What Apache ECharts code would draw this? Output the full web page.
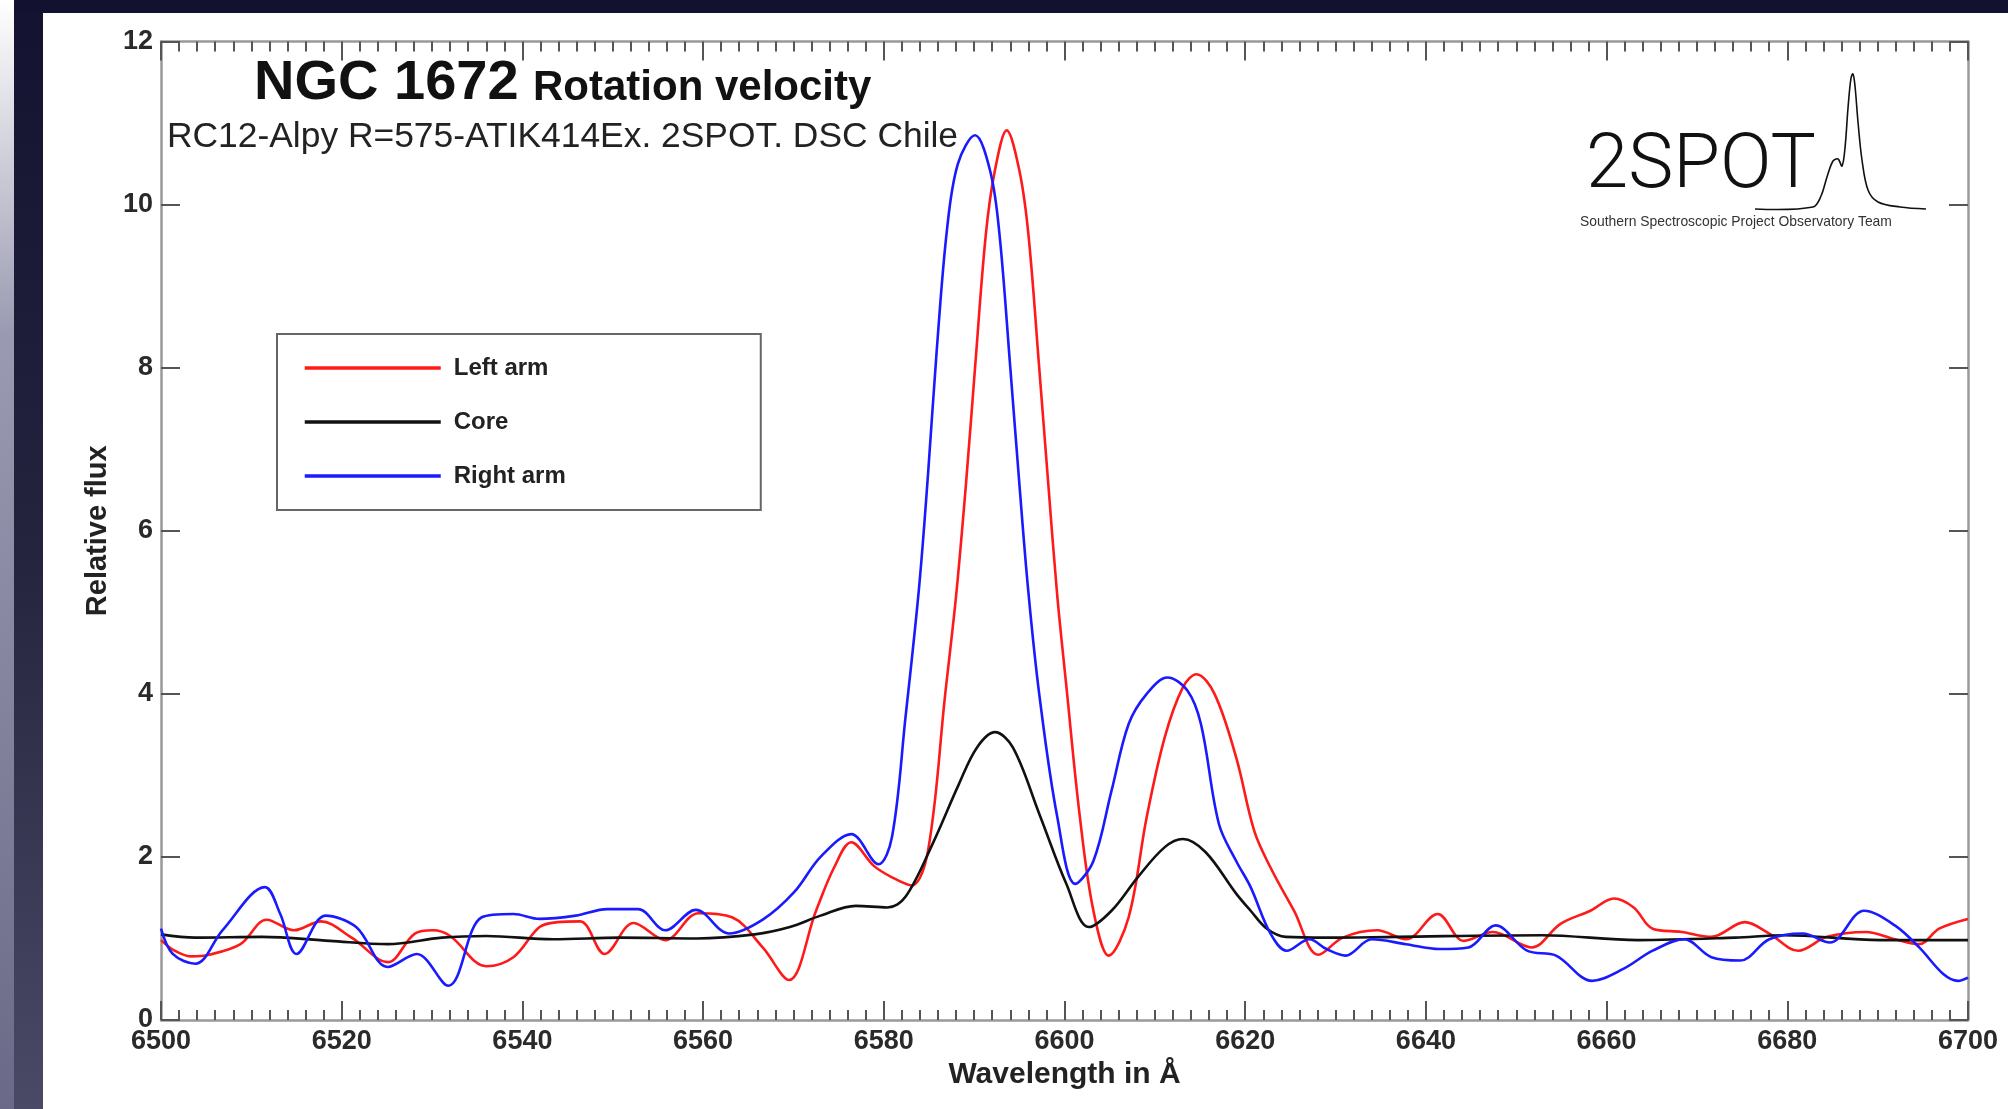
<!DOCTYPE html>
<html>
<head>
<meta charset="utf-8">
<script src="https://cdn.jsdelivr.net/npm/echarts@6/dist/echarts.min.js"></script>
<style>html,body{margin:0;padding:0;background:#fff;}#c{width:2008px;height:1109px;}</style>
</head>
<body>
<div id="c"></div>
<script>
// ---- data ----
const xMin = 6500, xMax = 6700, xStep = 20;
const yMin = 0, yMax = 12, yStep = 2;
const seriesNames = ['Left arm', 'Core', 'Right arm'];

const leftArmWl = [6500.0,6501.5,6503.3,6505.3,6508.8,6511.7,6514.7,6517.7,6521.1,6525.1,6528.1,6530.1,6532.0,6536.0,6539.0,6541.9,6543.9,6546.4,6549.1,6552.3,6555.8,6559.5,6563.2,6566.6,6569.5,6572.5,6574.5,6576.4,6578.9,6580.9,6583.1,6584.9,6586.8,6588.0,6589.1,6590.1,6591.3,6592.3,6593.6,6595.0,6596.0,6597.2,6598.2,6599.2,6600.2,6601.7,6603.2,6604.9,6607.1,6609.1,6611.1,6613.1,6614.6,6616.6,6619.0,6621.0,6622.8,6625.4,6628.1,6630.8,6634.6,6637.8,6641.3,6644.2,6647.4,6651.7,6654.9,6658.2,6660.8,6663.0,6665.1,6668.3,6671.6,6675.3,6678.0,6681.2,6684.4,6688.7,6691.9,6694.6,6696.8,6700.0];
const leftArmFlux = [0.98,0.85,0.78,0.80,0.93,1.23,1.10,1.21,1.01,0.71,1.06,1.10,1.03,0.66,0.77,1.14,1.20,1.21,0.81,1.19,0.98,1.31,1.26,0.89,0.49,1.34,1.87,2.18,1.89,1.75,1.65,2.08,4.0,5.2,6.58,8.0,9.64,10.42,10.91,10.42,9.64,8.0,6.58,5.2,4.1,2.49,1.34,0.79,1.26,2.49,3.47,4.08,4.24,4.0,3.22,2.32,1.87,1.34,0.80,1.01,1.10,0.99,1.30,0.97,1.08,0.89,1.18,1.34,1.49,1.38,1.12,1.08,1.02,1.20,1.06,0.85,1.02,1.08,0.99,0.93,1.12,1.24];

const coreWl = [6500.0,6503.8,6511.2,6518.7,6525.1,6531.1,6536.0,6543.4,6550.8,6559.3,6565.7,6569.6,6573.0,6576.9,6580.4,6582.4,6585.4,6588.3,6590.3,6592.3,6594.3,6597.2,6600.2,6602.7,6605.2,6608.1,6611.1,6613.1,6615.6,6619.0,6620.6,6622.4,6624.5,6629.0,6636.7,6652.8,6663.5,6674.2,6679.6,6690.3,6700.0];
const coreFlux = [1.05,1.01,1.02,0.97,0.93,1.01,1.03,0.99,1.01,1.00,1.05,1.14,1.28,1.40,1.38,1.51,2.16,2.89,3.34,3.53,3.34,2.53,1.67,1.14,1.34,1.75,2.12,2.22,2.06,1.55,1.34,1.12,1.02,1.01,1.02,1.04,0.98,1.01,1.04,0.98,0.98];

const rightArmWl = [6500.0,6501.3,6503.8,6506.8,6511.5,6513.2,6515.0,6518.2,6521.6,6525.1,6528.3,6531.8,6535.5,6539.0,6541.9,6545.9,6549.4,6552.8,6555.8,6559.2,6562.9,6566.6,6570.1,6573.0,6576.4,6579.4,6580.9,6582.4,6583.9,6584.9,6585.85,6587.0,6588.2,6590.1,6591.8,6592.8,6594.0,6595.0,6596.0,6597.2,6599.2,6601.2,6603.2,6605.2,6607.1,6609.1,6611.4,6613.6,6615.1,6617.1,6619.0,6620.6,6622.8,6624.6,6627.1,6629.0,6631.1,6634.0,6637.8,6641.5,6644.7,6647.7,6651.2,6654.4,6658.4,6661.9,6665.1,6668.6,6671.6,6674.8,6678.0,6681.7,6684.7,6688.5,6691.9,6694.6,6697.3,6698.9,6700.0];
const rightArmFlux = [1.12,0.81,0.69,1.10,1.63,1.30,0.81,1.28,1.14,0.65,0.81,0.42,1.26,1.30,1.24,1.28,1.36,1.36,1.10,1.35,1.06,1.23,1.57,2.0,2.28,1.91,2.24,3.71,5.3,6.7,8.2,9.7,10.5,10.85,10.4,9.64,8.0,6.58,5.25,4.0,2.49,1.67,1.95,2.81,3.63,4.0,4.20,4.04,3.63,2.40,1.95,1.63,1.06,0.85,0.99,0.87,0.79,0.99,0.93,0.87,0.89,1.16,0.85,0.79,0.48,0.63,0.85,0.99,0.77,0.73,0.99,1.06,0.95,1.34,1.16,0.89,0.56,0.48,0.52];

const seriesColors = ['#ff1a1a', '#111111', '#1a1aff'];

// ---- chart ----
const pairs = (xs, ys) => xs.map((x, i) => [x, ys[i]]);
const seriesData = [pairs(leftArmWl, leftArmFlux), pairs(coreWl, coreFlux), pairs(rightArmWl, rightArmFlux)];

const chart = echarts.init(document.getElementById('c'), null, {renderer: 'canvas'});
const FONT = '"Liberation Sans", Arial, Helvetica, sans-serif';
const tickColor = '#555';
const axisLineColor = '#999';

function xAxisCfg(pos, labels) {
  return {
    type: 'value', position: pos, min: xMin, max: xMax, interval: xStep,
    axisLine: {show: true, onZero: false, lineStyle: {color: axisLineColor, width: 2.5}},
    axisTick: {show: true, inside: true, length: 19, lineStyle: {color: tickColor, width: 2}},
    minorTick: {show: true, splitNumber: 10, length: 10, lineStyle: {color: tickColor, width: 2}},
    splitLine: {show: false}, minorSplitLine: {show: false},
    axisLabel: {show: labels, fontFamily: FONT, fontWeight: 'bold', fontSize: 27, color: '#2a2a2a', margin: 8,
                formatter: v => String(v)},
    name: labels ? 'Wavelength in Å' : '', nameLocation: 'middle', nameGap: 38,
    nameTextStyle: {fontFamily: FONT, fontWeight: 'bold', fontSize: 30, color: '#222'}
  };
}
function yAxisCfg(pos, labels) {
  return {
    type: 'value', position: pos, min: yMin, max: yMax, interval: yStep,
    axisLine: {show: true, onZero: false, lineStyle: {color: axisLineColor, width: 2.5}},
    axisTick: {show: true, inside: true, length: 19, lineStyle: {color: tickColor, width: 2}},
    splitLine: {show: false},
    axisLabel: {show: labels, fontFamily: FONT, fontWeight: 'bold', fontSize: 27, color: '#2a2a2a', margin: 8,
                formatter: v => String(v)},
    name: labels ? 'Relative flux' : '', nameLocation: 'middle', nameGap: 48, nameRotate: 90,
    nameTextStyle: {fontFamily: FONT, fontWeight: 'bold', fontSize: 29, color: '#222'}
  };
}

const leftGrad = new echarts.graphic.LinearGradient(0, 0, 0, 1, [
  {offset: 0, color: '#131331'}, {offset: 0.5, color: '#24243f'}, {offset: 1, color: '#4a4a66'}]);
const edgeGrad = new echarts.graphic.LinearGradient(0, 0, 0, 1, [
  {offset: 0, color: '#ffffff'}, {offset: 0.3, color: '#9a9ab2'}, {offset: 1, color: '#6a6a88'}]);

chart.setOption({
  animation: false,
  backgroundColor: '#ffffff',
  grid: {left: 161, right: 40, top: 41.5, bottom: 89, containLabel: false},
  xAxis: [xAxisCfg('bottom', true), xAxisCfg('top', false)],
  yAxis: [yAxisCfg('left', true), yAxisCfg('right', false)],
  legend: {
    orient: 'vertical', left: 277, top: 334,
    data: seriesNames,
    backgroundColor: '#fff',
    borderColor: '#666', borderWidth: 2, borderRadius: 0,
    padding: [22, 195, 22, 26],
    itemWidth: 136, itemHeight: 24, itemGap: 30,
    itemStyle: {opacity: 0},
    lineStyle: {width: 3.5},
    textStyle: {fontFamily: FONT, fontWeight: 'bold', fontSize: 24, color: '#222', padding: [0, 0, 0, 8]},
    selectedMode: false
  },
  series: seriesNames.map((n, i) => ({
    name: n, type: 'line', data: seriesData[i], xAxisIndex: 0, yAxisIndex: 0,
    symbol: 'none', smooth: 0.35,
    lineStyle: {color: seriesColors[i], width: 2.6}, itemStyle: {color: seriesColors[i]},
    z: 3 + i
  })),
  graphic: [
    {type: 'rect', silent: true, z: -1, shape: {x: 0, y: 0, width: 14, height: 1109}, style: {fill: edgeGrad}},
    {type: 'rect', silent: true, z: -1, shape: {x: 14, y: 0, width: 29, height: 1109}, style: {fill: leftGrad}},
    {type: 'rect', silent: true, z: -1, shape: {x: 14, y: 0, width: 1994, height: 13}, style: {fill: '#121230'}},
    {type: 'text', silent: true, x: 254, y: 84, style: {text: 'NGC 1672', fontFamily: FONT, fontWeight: 'bold', fontSize: 56, fill: '#111', verticalAlign: 'middle'}},
    {type: 'text', silent: true, x: 533, y: 88, style: {text: 'Rotation velocity', fontFamily: FONT, fontWeight: 'bold', fontSize: 42, fill: '#111', verticalAlign: 'middle'}},
    {type: 'text', silent: true, x: 167, y: 137, style: {text: 'RC12-Alpy R=575-ATIK414Ex. 2SPOT. DSC Chile', fontFamily: FONT, fontSize: 35.4, fill: '#222', verticalAlign: 'middle'}},
    // 2SPOT logo
    {type: 'text', silent: true, x: 1586, y: 168, style: {text: '2SPOT', fontFamily: 'Roboto, "DejaVu Sans", sans-serif', fontWeight: 300, fontSize: 76, fill: '#111', verticalAlign: 'middle'}},
    {type: 'polyline', silent: true, shape: {smooth: 0.35, points: [[1755,209],[1813,207],[1821,196],[1827,177],[1833,161],[1838,159],[1842,166],[1845,148],[1848,108],[1851,78],[1853,74],[1855,86],[1858,122],[1862,160],[1868,190],[1878,202],[1900,207],[1926,209]]}, style: {stroke: '#111', lineWidth: 1.6, fill: null}},
    {type: 'text', silent: true, x: 1580, y: 222, style: {text: 'Southern Spectroscopic Project Observatory Team', fontFamily: FONT, fontSize: 13.9, fill: '#333', verticalAlign: 'middle'}}
  ]
});
</script>
</body>
</html>
